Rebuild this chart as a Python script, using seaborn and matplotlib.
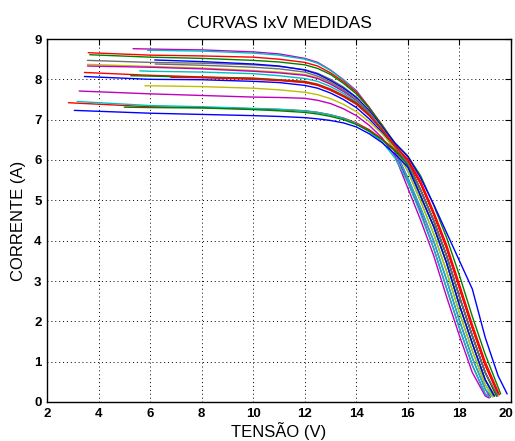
import numpy as np
import pandas as pd
import matplotlib
matplotlib.use("Agg")
import matplotlib.pyplot as plt
import matplotlib.transforms as mtransforms
import seaborn as sns

nan = np.nan

# grade de tensao comum (V) para o joelho e a cauda das curvas
tensao_grade = [6, 8, 10, 11, 12, 12.5, 13, 13.5, 14, 14.5, 15, 15.5,
                16, 16.5, 17, 17.5, 18, 18.5, 19, 19.5]

# ponto inicial e final de cada curva medida
v_inicial = [5.34, 5.9, 3.6, 3.66, 3.57, 6.18, 3.57, 3.57, 5.6, 3.45,
             3.45, 5.25, 5.8, 3.25, 2.83, 3.17, 5.0, 3.06, 6.2, 6.8]
i_inicial = [8.76, 8.72, 8.66, 8.61, 8.47, 8.48, 8.37, 8.33, 8.21, 8.17,
             8.07, 8.09, 7.84, 7.71, 7.42, 7.45, 7.31, 7.23, 8.38, 8.05]
v_final = [19.2, 19.3, 19.45, 19.6, 19.35, 19.85, 19.4, 19.2, 19.25, 19.5,
           19.45, 19.35, 19.3, 19.15, 19.5, 19.2, 19.45, 19.35, 19.5, 19.55]
i_final = [0.12, 0.15, 0.15, 0.2, 0.15, 0.2, 0.15, 0.12, 0.15, 0.2,
           0.15, 0.15, 0.12, 0.1, 0.2, 0.12, 0.15, 0.15, 0.15, 0.18]

# correntes (A) sobre tensao_grade
corrente_a = [8.75, 8.73, 8.68, 8.63, 8.52, 8.42, 8.23, 7.99, 7.72, 7.30, 6.82, 6.20,
              5.45, 4.70, 3.81, 2.82, 1.83, 0.91, 0.20, nan]
corrente_b = [8.72, 8.70, 8.65, 8.60, 8.50, 8.40, 8.22, 7.98, 7.70, 7.30, 6.85, 6.35,
              5.72, 4.97, 4.17, 3.24, 2.21, 1.27, 0.43, nan]
corrente_c = [8.60, 8.58, 8.55, 8.50, 8.42, 8.33, 8.16, 7.94, 7.68, 7.30, 6.87, 6.40,
              5.94, 5.25, 4.50, 3.63, 2.61, 1.64, 0.73, nan]
corrente_d = [8.55, 8.52, 8.47, 8.43, 8.36, 8.27, 8.12, 7.90, 7.64, 7.28, 6.86, 6.42,
              6.10, 5.60, 4.88, 4.08, 3.14, 2.12, 1.18, nan]
corrente_e = [8.42, 8.40, 8.36, 8.32, 8.24, 8.15, 8.00, 7.81, 7.56, 7.22, 6.80, 6.33,
              5.85, 5.10, 4.35, 3.45, 2.40, 1.45, 0.55, nan]
corrente_f = [nan, 8.44, 8.38, 8.33, 8.23, 8.13, 7.97, 7.78, 7.55, 7.22, 6.82, 6.42,
              6.08, 5.55, 4.90, 4.20, 3.50, 2.80, 1.60, 0.65]
corrente_g = [8.32, 8.28, 8.22, 8.18, 8.12, 8.04, 7.90, 7.72, 7.50, 7.18, 6.78, 6.33,
              5.88, 5.12, 4.35, 3.45, 2.40, 1.45, 0.55, nan]
corrente_h = [8.30, 8.26, 8.20, 8.16, 8.10, 8.02, 7.88, 7.70, 7.48, 7.15, 6.74, 6.25,
              5.55, 4.80, 3.99, 3.03, 2.02, 1.09, 0.32, nan]
corrente_i = [8.20, 8.18, 8.14, 8.09, 8.02, 7.95, 7.82, 7.65, 7.44, 7.12, 6.72, 6.22,
              5.55, 4.80, 3.99, 3.03, 2.02, 1.09, 0.32, nan]
corrente_j = [8.10, 8.06, 8.03, 7.99, 7.95, 7.88, 7.76, 7.60, 7.42, 7.12, 6.76, 6.35,
              6.00, 5.40, 4.65, 3.81, 2.82, 1.83, 0.91, nan]
corrente_k = [8.00, 7.99, 7.95, 7.92, 7.85, 7.78, 7.66, 7.50, 7.30, 7.02, 6.68, 6.30,
              5.92, 5.25, 4.50, 3.63, 2.61, 1.64, 0.73, nan]
corrente_l = [8.08, 8.05, 8.02, 7.98, 7.93, 7.86, 7.73, 7.58, 7.40, 7.10, 6.74, 6.32,
              5.86, 5.10, 4.35, 3.45, 2.40, 1.45, 0.55, nan]
corrente_m = [7.84, 7.82, 7.78, 7.74, 7.68, 7.62, 7.52, 7.38, 7.20, 6.95, 6.65, 6.28,
              5.72, 4.97, 4.17, 3.24, 2.21, 1.27, 0.43, nan]
corrente_n = [7.64, 7.60, 7.56, 7.55, 7.53, 7.48, 7.40, 7.27, 7.10, 6.86, 6.55, 6.10,
              5.30, 4.50, 3.63, 2.61, 1.64, 0.73, 0.15, nan]
corrente_o = [7.32, 7.30, 7.27, 7.25, 7.22, 7.18, 7.12, 7.04, 6.92, 6.75, 6.52, 6.25,
              5.95, 5.40, 4.65, 3.81, 2.82, 1.83, 0.91, nan]
corrente_p = [7.35, 7.32, 7.28, 7.26, 7.22, 7.18, 7.12, 7.03, 6.90, 6.70, 6.45, 6.05,
              5.45, 4.65, 3.81, 2.82, 1.83, 0.91, 0.20, nan]
corrente_q = [7.30, 7.29, 7.25, 7.22, 7.18, 7.14, 7.08, 7.00, 6.88, 6.72, 6.50, 6.22,
              5.90, 5.25, 4.50, 3.63, 2.61, 1.64, 0.73, nan]
corrente_r = [7.16, 7.13, 7.10, 7.08, 7.05, 7.02, 6.98, 6.92, 6.82, 6.65, 6.43, 6.15,
              5.82, 5.10, 4.35, 3.45, 2.40, 1.45, 0.55, nan]
corrente_s = [nan, 8.35, 8.30, 8.26, 8.18, 8.08, 7.93, 7.74, 7.50, 7.17, 6.77, 6.33,
              5.92, 5.25, 4.50, 3.63, 2.61, 1.64, 0.73, nan]
corrente_t = [nan, 8.04, 8.00, 7.97, 7.92, 7.85, 7.73, 7.57, 7.38, 7.10, 6.75, 6.35,
              6.02, 5.47, 4.72, 3.90, 2.92, 1.92, 1.00, nan]

# cores padrao do MATLAB (b, g, r, c, m, y, k)
B, G, R, C, M, Y, K = "#0000FF", "#008000", "#FF0000", "#00BFBF", "#BF00BF", "#BFBF00", "#6E6E6E"
cores = [M, C, R, G, K, B, Y, M, C, R, B, G, Y, M, R, C, G, B, K, R]

correntes = [corrente_a, corrente_b, corrente_c, corrente_d, corrente_e,
             corrente_f, corrente_g, corrente_h, corrente_i, corrente_j,
             corrente_k, corrente_l, corrente_m, corrente_n, corrente_o,
             corrente_p, corrente_q, corrente_r, corrente_s, corrente_t]

linhas = []
for n, corr in enumerate(correntes):
    linhas.append((n, v_inicial[n], i_inicial[n]))
    for v, i in zip(tensao_grade, corr):
        if not np.isnan(i) and v > v_inicial[n]:
            linhas.append((n, v, i))
    linhas.append((n, v_final[n], i_final[n]))
df = pd.DataFrame(linhas, columns=["curva", "tensao", "corrente"])

sns.set_style("white")
plt.rcParams["font.family"] = ["Liberation Sans", "DejaVu Sans"]
plt.rcParams["text.color"] = "black"
plt.rcParams["axes.labelcolor"] = "black"
plt.rcParams["xtick.color"] = "black"
plt.rcParams["ytick.color"] = "black"

fig = plt.figure(figsize=(5.15, 4.41), dpi=100)
ax = fig.add_axes([47 / 515, 39 / 441, 464 / 515, 363 / 441])

sns.lineplot(data=df, x="tensao", y="corrente", hue="curva", palette=cores,
             estimator=None, sort=False, legend=False, linewidth=1.0, ax=ax)

ax.set_xlim(2, 20)
ax.set_ylim(0, 9)
ax.set_xticks(range(2, 21, 2))
ax.set_yticks(range(0, 10))
ax.grid(True, color="black", linestyle=(0, (1, 3)), linewidth=0.7)
ax.tick_params(direction="in", top=True, right=True, length=4, width=0.8,
               color="black", labelcolor="black", labelsize=9.5, pad=4)
for lab in ax.get_xticklabels() + ax.get_yticklabels():
    lab.set_fontweight("bold")
# o rotulo "20" fica encostado na borda direita da figura
ultimo = ax.get_xticklabels()[-1]
ultimo.set_transform(ultimo.get_transform() +
                     mtransforms.ScaledTranslation(-5 / 100, 0, fig.dpi_scale_trans))
for sp in ax.spines.values():
    sp.set_color("black")
    sp.set_linewidth(1.0)

ax.set_title("CURVAS IxV MEDIDAS", fontsize=12.5, pad=8, color="black")
ax.set_xlabel("TENSÃO (V)", fontsize=12, labelpad=2, color="black")
ax.set_ylabel("CORRENTE (A)", fontsize=12, labelpad=6, color="black")

fig.savefig("out.png", dpi=100)
